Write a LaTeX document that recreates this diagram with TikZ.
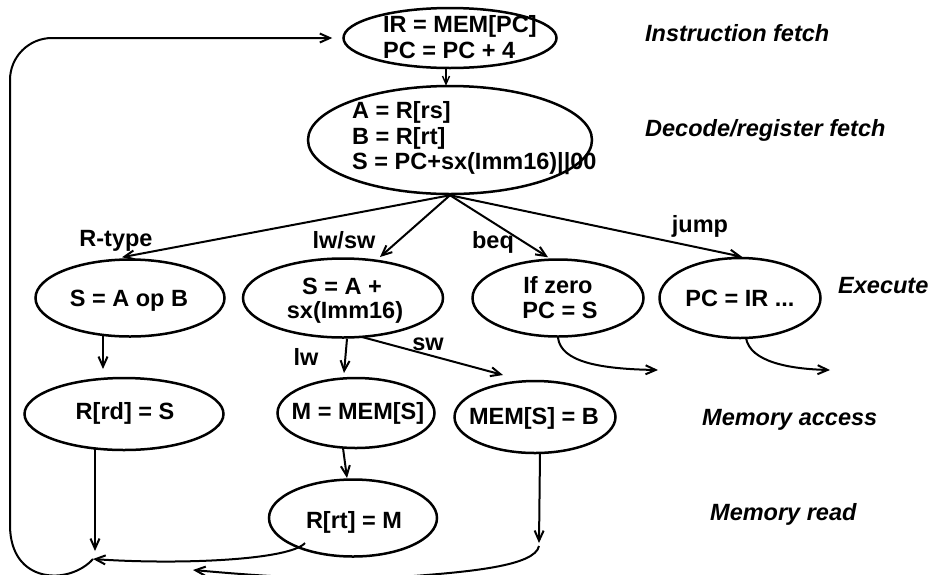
\documentclass[tikz,border=0pt]{standalone}
\usepackage{fontspec}
\setmainfont{Liberation Sans}
\usetikzlibrary{shapes.geometric,arrows.meta,calc}
\begin{document}
\begin{tikzpicture}[x=1pt,y=-1pt,
  state/.style={draw,ellipse,line width=2.5pt,inner sep=0pt},
  txt/.style={font=\fontsize{23.5}{26}\selectfont\bfseries,inner sep=0pt},
  stage/.style={font=\fontsize{23.5}{26}\selectfont\bfseries\itshape,inner sep=0pt,anchor=base west},
  flow/.style={line width=2pt,-{Straight Barb[length=10pt,width=9pt]}},
  thinflow/.style={line width=1.4pt,-{Straight Barb[length=8pt,width=7pt]}},
  ]
\useasboundingbox (0,0) rectangle (928,574);

% states
\node[state,minimum width=213pt,minimum height=60pt] (fetch) at (450,38) {};
\node[txt,anchor=base west] (fetchA) at (383,32) {IR = MEM[PC]};
\node[txt,anchor=base west] (fetchB) at (383,58) {PC = PC + 4};

\node[state,minimum width=284pt,minimum height=108pt] (dec) at (450,140) {};
\node[txt,anchor=base west] (decA) at (352,118) {A = R[rs]};
\node[txt,anchor=base west] (decB) at (352,144) {B = R[rt]};
\node[txt,anchor=base west] (decC) at (352,169) {S = PC+sx(Imm16)||00};

\node[state,minimum width=189pt,minimum height=77pt] (exA) at (130,298) {};
\node[txt,anchor=base] (exAT) at (129,306) {S = A op B};

\node[state,minimum width=200pt,minimum height=79pt] (exB) at (343,298) {};
\node[txt,anchor=base] (exBA) at (342,294) {S = A +};
\node[txt,anchor=base] (exBB) at (345,318) {sx(Imm16)};

\node[state,minimum width=171pt,minimum height=77pt] (exC) at (558,298) {};
\node[txt,anchor=base] (exCA) at (558,293) {If zero};
\node[txt,anchor=base] (exCB) at (560,318) {PC = S};

\node[state,minimum width=161pt,minimum height=80pt] (exD) at (740,298) {};
\node[txt,anchor=base] (exDT) at (740,306) {PC = IR ...};

\node[state,minimum width=199pt,minimum height=72pt] (memA) at (124,414) {};
\node[txt,anchor=base] (memAT) at (125,419) {R[rd] = S};

\node[state,minimum width=157pt,minimum height=70pt] (memM) at (356,413) {};
\node[txt,anchor=base] (memMT) at (358,419) {M = MEM[S]};

\node[state,minimum width=161pt,minimum height=72pt] (memB) at (535,417) {};
\node[txt,anchor=base] (memBT) at (534,424) {MEM[S] = B};

\node[state,minimum width=168pt,minimum height=77pt] (rtM) at (353,518) {};
\node[txt,anchor=base] (rtMT) at (354,528) {R[rt] = M};

% stage names
\node[stage] (sFetch) at (645,41) {Instruction fetch};
\node[stage] (sDec) at (645,136) {Decode/register fetch};
\node[stage] (sExe) at (838,293) {Execute};
\node[stage] (sMem) at (702,425) {Memory access};
\node[stage] (sRead) at (710,520) {Memory read};

% free ends and junctions
\coordinate (mergeL) at (93,559);
\coordinate (rdTip) at (95,551);
\coordinate (mergeR) at (539,546);
\coordinate (wbTip) at (193,570);
\coordinate (beqEnd) at (658,370);
\coordinate (jmpEnd) at (830,370);

% fetch to decode
\draw[thinflow] ($(fetch.south)+(-4,0)$) -- ($(dec.north)+(-4,1)$);

% decode to execute
\draw[flow] (dec.south) -- ($(exA.north)+(-8,-1)$);
\node[txt,anchor=base] (labR) at (116,246) {R-type};
\draw[flow] (dec.south) -- ($(exB.center)+(37,-41)$);
\node[txt,anchor=base] (labLS) at (344,248) {lw/sw};
\draw[flow] (dec.south) -- ($(exC.north)+(-10,-1)$);
\node[txt,anchor=base] (labBeq) at (493,248) {beq};
\draw[flow] (dec.south) -- ($(exD.north)+(2,0)$);
\node[txt,anchor=base] (labJ) at (700,232) {jump};

% execute to memory
\draw[flow] ($(exA.center)+(-27,37)$) -- ($(memA.center)+(-21,-45)$);
\draw[flow] ($(exB.south)+(4,0)$) -- ($(memM.center)+(-12,-40)$);
\node[txt,anchor=base] (labLw) at (306,365) {lw};
\draw[flow] ($(exB.center)+(19,39)$) -- ($(memB.center)+(-32,-42)$);
\node[txt,anchor=base] (labSw) at (428,350) {sw};

% branch and jump exits
\draw[flow] (exC.south) .. controls (561,362) and (600,369) .. (beqEnd);
\draw[flow] ($(exD.center)+(6,40)$) .. controls (750,362) and (790,369) .. (jmpEnd);

% memory to write back
\draw[flow] ($(memM.center)+(-13,35)$) -- ($(rtM.center)+(-6,-40)$);
\draw[flow] ($(memA.center)+(-29,34)$) -- (rdTip);
\draw[flow] ($(rtM.center)+(-48,25)$) .. controls (290,560) and (180,565) .. (mergeL);
\draw[flow] ($(memB.center)+(5,36)$) -- (mergeR |- 0,543);
\draw[flow] (mergeR) .. controls (535,566) and (470,572) .. (400,577)
  .. controls (320,581) and (250,575) .. (wbTip);

% back to instruction fetch
\draw[flow] (mergeL) .. controls (70,585) and (10,585) .. (10,525)
  [rounded corners=42pt] -- (10,38) -- ($(fetch.west)+(-10,0)$);
\end{tikzpicture}
\end{document}
